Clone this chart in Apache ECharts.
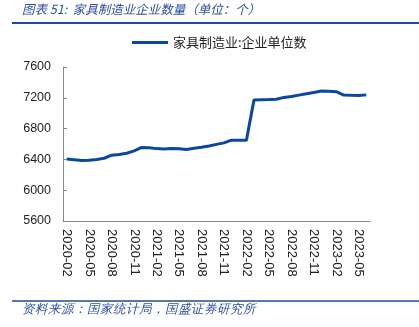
<!DOCTYPE html>
<html>
<head>
<meta charset="utf-8">
<script src="https://cdn.jsdelivr.net/npm/echarts@6/dist/echarts.min.js"></script>
<style>
html,body{margin:0;padding:0;background:#fff;}
#c{width:419px;height:327px;}
</style>
</head>
<body>
<div id="c"></div>
<script>
const categories = [
  '2020-02','2020-03','2020-04','2020-05','2020-06','2020-07','2020-08','2020-09','2020-10','2020-11','2020-12',
  '2021-01','2021-02','2021-03','2021-04','2021-05','2021-06','2021-07','2021-08','2021-09','2021-10','2021-11','2021-12',
  '2022-01','2022-02','2022-03','2022-04','2022-05','2022-06','2022-07','2022-08','2022-09','2022-10','2022-11','2022-12',
  '2023-01','2023-02','2023-03','2023-04','2023-05','2023-06'
];
const seriesName = '家具制造业:企业单位数';
const values = [
  6405,6395,6385,6388,6400,6415,6455,6465,6480,6510,6555,
  6550,6540,6535,6540,6538,6528,6545,6558,6575,6595,6615,6650,
  6650,6650,7170,7175,7178,7182,7205,7218,7235,7252,7270,7288,
  7285,7280,7235,7232,7230,7238
];
const yTicks = {min:5600, max:7600, interval:400};
const titleText = '图表 51:  家具制造业企业数量（单位：个）';
const sourceText = '资料来源：国家统计局，国盛证券研究所';

const chart = echarts.init(document.getElementById('c'), null, {renderer:'canvas'});
const blue = '#0a479e';
chart.setOption({
  animation:false,
  backgroundColor:'#fff',
  title:{
    text:titleText, left:22, top:3, padding:0,
    textStyle:{fontSize:12.5, fontStyle:'italic', fontWeight:'normal', color:'#2d4f9e',
      fontFamily:'"Noto Sans CJK SC", sans-serif'}
  },
  legend:{
    data:[seriesName], left:132, top:36, padding:0,
    icon:'rect', itemWidth:36, itemHeight:3,
    textStyle:{fontSize:13, color:'#222', fontFamily:'"Noto Sans CJK SC", sans-serif'}
  },
  grid:{left:63, right:49, top:67, bottom:106, containLabel:false},
  xAxis:{
    type:'category', data:categories, boundaryGap:true,
    axisLine:{lineStyle:{color:'#888'}},
    axisTick:{interval:2, inside:true, length:4, lineStyle:{color:'#888'}},
    axisLabel:{interval:2, rotate:-90, margin:8, fontSize:13, color:'#222',
      fontFamily:'"Liberation Sans", Arial, sans-serif'}
  },
  yAxis:{
    type:'value', min:yTicks.min, max:yTicks.max, interval:yTicks.interval,
    axisLine:{show:true, lineStyle:{color:'#888'}},
    axisTick:{show:true, inside:true, length:4, lineStyle:{color:'#888'}},
    splitLine:{show:false},
    axisLabel:{fontSize:12.5, color:'#222', margin:12, formatter:(v)=>String(v),
      fontFamily:'"Liberation Sans", Arial, sans-serif'}
  },
  series:[{
    name:seriesName, type:'line', data:values, showSymbol:false, symbol:'none',
    lineStyle:{width:3, color:blue}, itemStyle:{color:blue}
  }],
  graphic:[
    {type:'line', shape:{x1:12,y1:23,x2:419,y2:23}, style:{stroke:'#1d4b94', lineWidth:2}},
    {type:'line', shape:{x1:12,y1:301,x2:419,y2:301}, style:{stroke:'#1d4b94', lineWidth:1.3}},
    {type:'text', left:22, top:303, style:{text:sourceText, fontSize:12.5, fontStyle:'italic',
      fill:'#2d4f9e', font:'italic 12.5px "Noto Sans CJK SC", sans-serif'}}
  ]
});
</script>
</body>
</html>
